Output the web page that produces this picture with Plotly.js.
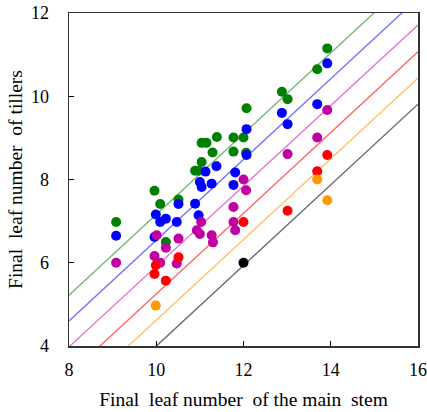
<!DOCTYPE html>
<html>
<head>
<meta charset="utf-8">
<script src="https://cdn.plot.ly/plotly-3.0.1.min.js"></script>
<style>html,body{margin:0;padding:0;background:#fff;}#chart{width:427px;height:412px;}</style>
</head>
<body>
<div id="chart"></div>
<script>
// Scatter series (x = final leaf number of main stem, y = final leaf number of tillers)
const greenX = [9.08, 9.96, 10.09, 10.51, 10.22, 10.89, 10.97, 11.04, 11.04, 11.15, 11.29, 11.39, 11.77, 12.0, 11.77, 12.07, 12.06, 12.88, 13.01, 13.69, 13.92];
const greenY = [6.98, 7.73, 7.41, 7.52, 6.50, 8.21, 8.21, 8.42, 8.88, 8.88, 8.65, 9.02, 9.01, 9.01, 8.67, 9.71, 8.64, 10.11, 9.93, 10.65, 11.15];

const blueX = [9.08, 9.99, 9.96, 10.09, 10.22, 10.47, 10.51, 10.89, 10.97, 11.0, 11.04, 11.27, 11.13, 11.38, 11.77, 11.81, 12.07, 12.07, 12.88, 13.01, 13.69, 13.92];
const blueY = [6.65, 7.16, 6.62, 6.98, 7.06, 6.98, 7.41, 7.42, 7.14, 7.94, 7.82, 7.90, 8.19, 8.32, 7.87, 8.17, 8.59, 9.21, 9.60, 9.33, 9.81, 10.79];

const magentaX = [9.08, 10.01, 9.96, 10.09, 10.22, 10.51, 10.47, 11.03, 10.93, 11.0, 11.27, 11.30, 11.77, 11.77, 11.81, 12.0, 12.06, 13.01, 13.69, 13.92];
const magentaY = [6.00, 6.66, 6.16, 6.00, 6.36, 6.58, 5.98, 6.98, 6.78, 6.69, 6.66, 6.49, 7.34, 6.98, 6.78, 8.00, 7.74, 8.61, 9.01, 9.67];

const redX = [9.99, 9.96, 10.22, 10.51, 12.0, 13.01, 13.69, 13.92];
const redY = [5.94, 5.73, 5.57, 6.13, 6.98, 7.25, 8.20, 8.59];

const orangeX = [9.99, 13.69, 13.92];
const orangeY = [4.97, 8.00, 7.50];

const blackX = [12.0];
const blackY = [6.0];

// Reference lines (endpoints)
const lineX = [8, 16];
const greenLineY = [5.22, 12.98];
const blueLineY = [4.60, 12.36];
const magentaLineY = [3.98, 11.71];
const redLineY = [3.31, 11.07];
const orangeLineY = [2.68, 10.44];
const blackLineY = [2.06, 9.81];

// Axis labels
const xTicks = [8, 10, 12, 14, 16];
const yTicks = [4, 6, 8, 10, 12];
const xTitle = 'Final  leaf number  of the main  stem';
const yTitle = 'Final  leaf number  of tillers';

const FONT = 'Liberation Serif, Times New Roman, serif';

function line(y, color) {
  return {x: lineX, y: y, mode: 'lines', type: 'scatter', line: {color: color, width: 1.4}, hoverinfo: 'skip'};
}
function pts(x, y, color) {
  return {x: x, y: y, mode: 'markers', type: 'scatter', marker: {color: color, size: 10}};
}

const data = [
  line(greenLineY, 'rgba(0,128,0,0.55)'),
  line(blueLineY, 'rgba(0,0,255,0.55)'),
  line(magentaLineY, 'rgba(204,0,170,0.55)'),
  line(redLineY, 'rgba(255,0,0,0.6)'),
  line(orangeLineY, 'rgba(255,150,0,0.6)'),
  line(blackLineY, 'rgba(0,0,0,0.6)'),
  pts(greenX, greenY, '#008000'),
  pts(blueX, blueY, '#0000ff'),
  pts(magentaX, magentaY, '#c000a0'),
  pts(redX, redY, '#ff0000'),
  pts(orangeX, orangeY, '#ff9900'),
  pts(blackX, blackY, '#000000')
];

const axisCommon = {
  showgrid: false, zeroline: false, showline: true, mirror: true,
  linecolor: '#333', linewidth: 1.5,
  ticks: 'inside', ticklen: 5, tickwidth: 1, tickcolor: '#000',
  tickfont: {family: FONT, size: 18, color: '#000'}
};

const layout = {
  width: 427, height: 412,
  margin: {l: 69, r: 9, t: 13, b: 66},
  paper_bgcolor: '#fff', plot_bgcolor: '#fff',
  showlegend: false,
  font: {family: FONT},
  xaxis: Object.assign({}, axisCommon, {
    range: [8, 16], tickvals: xTicks, ticktext: xTicks.map(String),
    ticklabelstandoff: 7,
    title: {text: xTitle, standoff: 13, font: {family: FONT, size: 19.5, color: '#000'}}
  }),
  yaxis: Object.assign({}, axisCommon, {
    range: [4, 12], tickvals: yTicks, ticktext: yTicks.map(String),
    ticklabelstandoff: 15,
    title: {text: yTitle, standoff: 3, font: {family: FONT, size: 19.5, color: '#000'}}
  })
};

Plotly.newPlot('chart', data, layout, {displayModeBar: false, staticPlot: true});
</script>
</body>
</html>
